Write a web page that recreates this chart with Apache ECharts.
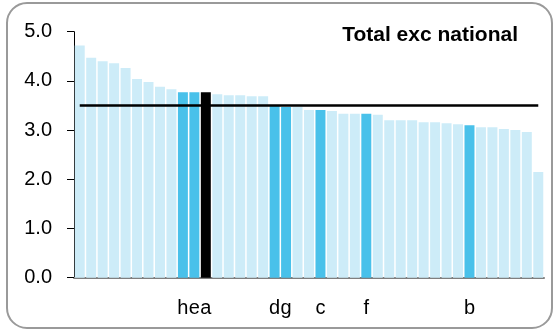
<!DOCTYPE html>
<html>
<head>
<meta charset="utf-8">
<script src="https://cdn.jsdelivr.net/npm/echarts@6/dist/echarts.min.js"></script>
<style>
  html, body { margin: 0; padding: 0; background: #fff; }
  #chart { width: 556px; height: 332px; }
</style>
</head>
<body>
<div id="chart"></div>
<script>
// values, sorted descending
const values = [
  4.72, 4.47, 4.40, 4.36, 4.26, 4.04, 3.98, 3.88, 3.83, 3.77,
  3.77, 3.77, 3.73, 3.71, 3.71, 3.69, 3.69, 3.51, 3.47, 3.47,
  3.41, 3.41, 3.39, 3.33, 3.33, 3.33, 3.31, 3.20, 3.20, 3.20,
  3.16, 3.16, 3.14, 3.12, 3.10, 3.06, 3.06, 3.02, 3.00, 2.96, 2.15
]
// letter under the highlighted bars, empty elsewhere
const categoryLabels = [
  '', '', '', '', '', '', '', '', '', 'h',
  'e', 'a', '', '', '', '', '', 'd', 'g', '',
  '', 'c', '', '', '', 'f', '', '', '', '',
  '', '', '', '', 'b', '', '', '', '', '', ''
]
// 0 = other, 1 = highlighted, 2 = selected
const barKind = [
  0, 0, 0, 0, 0, 0, 0, 0, 0, 1,
  1, 2, 0, 0, 0, 0, 0, 1, 1, 0,
  0, 1, 0, 0, 0, 1, 0, 0, 0, 0,
  0, 0, 0, 0, 1, 0, 0, 0, 0, 0, 0
]
const average = 3.5
const yTicks = [0, 1, 2, 3, 4, 5]

const kindColors = ['#cdecf8', '#49c1ea', '#000000']

const chart = echarts.init(document.getElementById('chart'))

chart.setOption({
  animation: false,
  title: {
    text: 'Total exc national',
    right: 33,
    top: 20,
    textStyle: {
      fontFamily: 'Liberation Sans, Arial, sans-serif',
      fontWeight: 'bold',
      fontSize: 21,
      color: '#000'
    }
  },
  graphic: [{
    type: 'rect',
    shape: { x: 7, y: 3, width: 545, height: 325, r: 20 },
    style: { fill: 'none', stroke: '#9a9a9a', lineWidth: 2 },
    silent: true,
    z: -1
  }],
  grid: {
    left: 74,
    right: 12,
    top: 31.7,
    bottom: 54.3
  },
  xAxis: {
    type: 'category',
    data: values.map((v, i) => i),
    axisLine: { lineStyle: { color: '#7f7f7f', width: 2 } },
    axisTick: { show: false },
    axisLabel: {
      interval: 0,
      margin: 21,
      fontFamily: 'Liberation Sans, Arial, sans-serif',
      fontSize: 20,
      color: '#000',
      formatter: (value, index) => categoryLabels[index]
    }
  },
  yAxis: {
    type: 'value',
    min: yTicks[0],
    max: yTicks[yTicks.length - 1],
    interval: 1,
    axisLine: { show: true, lineStyle: { color: '#000', width: 1 } },
    axisTick: { show: true, length: 7, lineStyle: { color: '#000' } },
    splitLine: { show: false },
    axisLabel: {
      margin: 22,
      fontFamily: 'Liberation Sans, Arial, sans-serif',
      fontSize: 20,
      color: '#000',
      formatter: v => v.toFixed(1)
    }
  },
  series: [
    {
      type: 'bar',
      barCategoryGap: '13%',
      data: values.map((v, i) => ({
        value: v,
        itemStyle: { color: kindColors[barKind[i]] }
      }))
    },
    {
      type: 'line',
      data: values.map(() => average),
      showSymbol: false,
      lineStyle: { color: '#000', width: 2.5 },
      z: 5
    }
  ]
})
</script>
</body>
</html>
